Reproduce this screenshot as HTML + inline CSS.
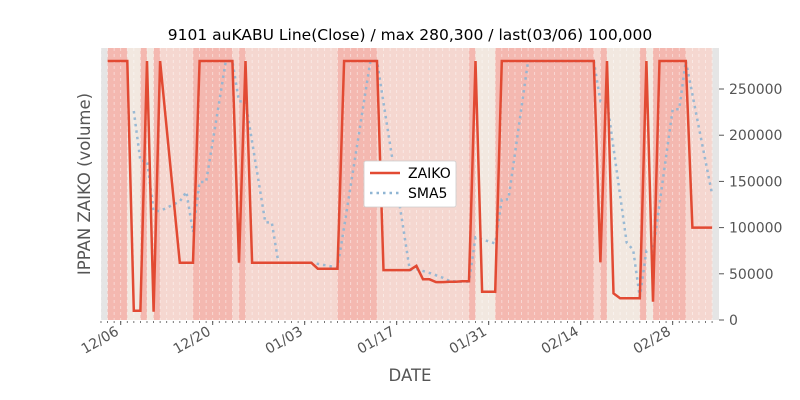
<!DOCTYPE html>
<html><head><meta charset="utf-8"><style>
body{margin:0;background:#fff;}
svg{display:block;font-family:"DejaVu Sans","Liberation Sans",sans-serif;}
</style></head><body>
<svg id="chart" width="800" height="400" viewBox="0 0 800 400">
<rect x="0" y="0" width="800" height="400" fill="#fff"/>
<text x="410" y="40" text-anchor="middle" font-size="15.5" fill="#000">9101 auKABU Line(Close) / max 280,300 / last(03/06) 100,000</text>
<rect x="101" y="48" width="618" height="272" fill="#e5e5e5"/>
<g id="cols"></g><g id="grid"></g><g id="lines"></g><g id="xaxis"></g><g id="yaxis"></g>
<text x="410" y="381" text-anchor="middle" font-size="16.5" fill="#555">DATE</text>
<text transform="translate(90,184) rotate(-90)" text-anchor="middle" font-size="16.5" fill="#555">IPPAN ZAIKO (volume)</text>
<g>
<rect x="364" y="161" width="92" height="46" rx="2" fill="#fff" stroke="#ccc" stroke-width="0.8"/>
<line x1="370" y1="173" x2="400" y2="173" stroke="#e24a33" stroke-width="2.5"/>
<text x="408" y="178" font-size="14" fill="#000">ZAIKO</text>
<line x1="370" y1="193" x2="400" y2="193" stroke="#8fb5d3" stroke-width="2.5" stroke-dasharray="2.5,4"/>
<text x="408" y="198" font-size="14" fill="#000">SMA5</text>
</g>
</svg>
<script>
// day offsets relative to 12/06 (day 0)
const days = [-2,-1,0,1,2,3,4,5,6,9,10,11,12,13,14,15,16,17,18,19,
20,21,22,23,24,25,26,27,28,29,30,31,32,33,34,35,36,37,38,39,
40,41,42,43,44,45,46,47,48,49,50,51,52,53,54,55,56,57,
58,59,60,61,62,63,64,65,66,67,68,69,70,71,72,73,74,75,76,77,78,79,80,81,
82,83,84,85,86,87,88,89,90];
const zaiko = [
280300,280300,280300,280300, 10000,10000, 280300, 9000, 280300,
62000,62000,62000, 280300,280300,280300,280300,280300,280300, 62000, 280300,
62000,62000,62000,62000,62000,62000,62000,62000,62000,62000,
55500,55500,55500,55500, 280300,280300,280300,280300,280300,280300,
54000,54000,54000,54000,54000, 58700, 44000,44000,
41000,41000,41500,41500,42000,42000, 280300, 30600,30600,30600,
280300,280300,280300,280300,280300,280300,280300,280300,280300,280300,280300,280300,280300,280300,280300,
62400, 280300, 28800, 23500,23500,23500,23500, 280300, 19800,
280300,280300,280300,280300,280300, 100000,100000,100000,100000];
const xTickDays = [0,14,28,42,56,70,84];
const xTickLabels = ["12/06","12/20","01/03","01/17","01/31","02/14","02/28"];
const yTicks = [0,50000,100000,150000,200000,250000];

const NS="http://www.w3.org/2000/svg";
const x = d => 120.7 + d*6.571;
const y = v => 320 - v/1082.3;
function mk(tag, attrs, parent){const e=document.createElementNS(NS,tag);for(const k in attrs)e.setAttribute(k,attrs[k]);parent.appendChild(e);return e;}
const cols=document.getElementById('cols'), grid=document.getElementById('grid'), lines=document.getElementById('lines');
const xa=document.getElementById('xaxis'), ya=document.getElementById('yaxis');
const maxV=Math.max(...zaiko);
zaiko.forEach((v,i)=>{
  const d=days[i];
  const d0 = i===0 ? d : days[i-1];
  const c = v>=maxV*0.9 ? '#f4b8b0' : (v<35000 ? '#f2e8e0' : '#f5d7d0');
  const r=mk('rect',{x:x(d0),y:48,width:x(d)-x(d0)+0.3,height:272,fill:c},cols);
  
  
});
for(let d=days[0]-1; d<=days[days.length-1]; d++){
  const l=mk('line',{x1:x(d),y1:48,x2:x(d),y2:320,stroke:'#fff','stroke-opacity':0.55,'stroke-width':0.8,'stroke-dasharray':'3,3'},grid);
  
  
  const t=mk('line',{x1:x(d),y1:321,x2:x(d),y2:323,stroke:'#555','stroke-width':0.8},xa);
  
  
}
xTickDays.forEach((d,i)=>{
  const t=mk('line',{x1:x(d),y1:321,x2:x(d),y2:325,stroke:'#555','stroke-width':1},xa);
  
  
  const tx=mk('text',{x:0,y:0,transform:`translate(${x(d)-1},${334}) rotate(-30)`,'text-anchor':'end','font-size':14,fill:'#555'},xa);
  tx.textContent=xTickLabels[i];
  
  
});
yTicks.forEach(v=>{
  const t=mk('line',{x1:719,y1:y(v),x2:724,y2:y(v),stroke:'#555','stroke-width':1},ya);
  
  
  const tx=mk('text',{x:729,y:y(v)+5,'font-size':14,fill:'#555'},ya);
  tx.textContent=String(v);
  
  
});
// SMA5 derived from data rows
let sp=[];
for(let i=4;i<zaiko.length;i++){
  let s=0;for(let k=i-4;k<=i;k++)s+=zaiko[k];
  sp.push(x(days[i]).toFixed(1)+','+y(s/5).toFixed(1));
}
const sma=mk('polyline',{points:sp.join(' '),fill:'none',stroke:'#8fb5d3','stroke-width':2.5,'stroke-dasharray':'2.5,4','stroke-opacity':0.9},lines);


const zp=zaiko.map((v,i)=>x(days[i]).toFixed(1)+','+y(v).toFixed(1)).join(' ');
const zl=mk('polyline',{points:zp,fill:'none',stroke:'#e24a33','stroke-width':2.5,'stroke-linejoin':'miter'},lines);


</script>
</body></html>
